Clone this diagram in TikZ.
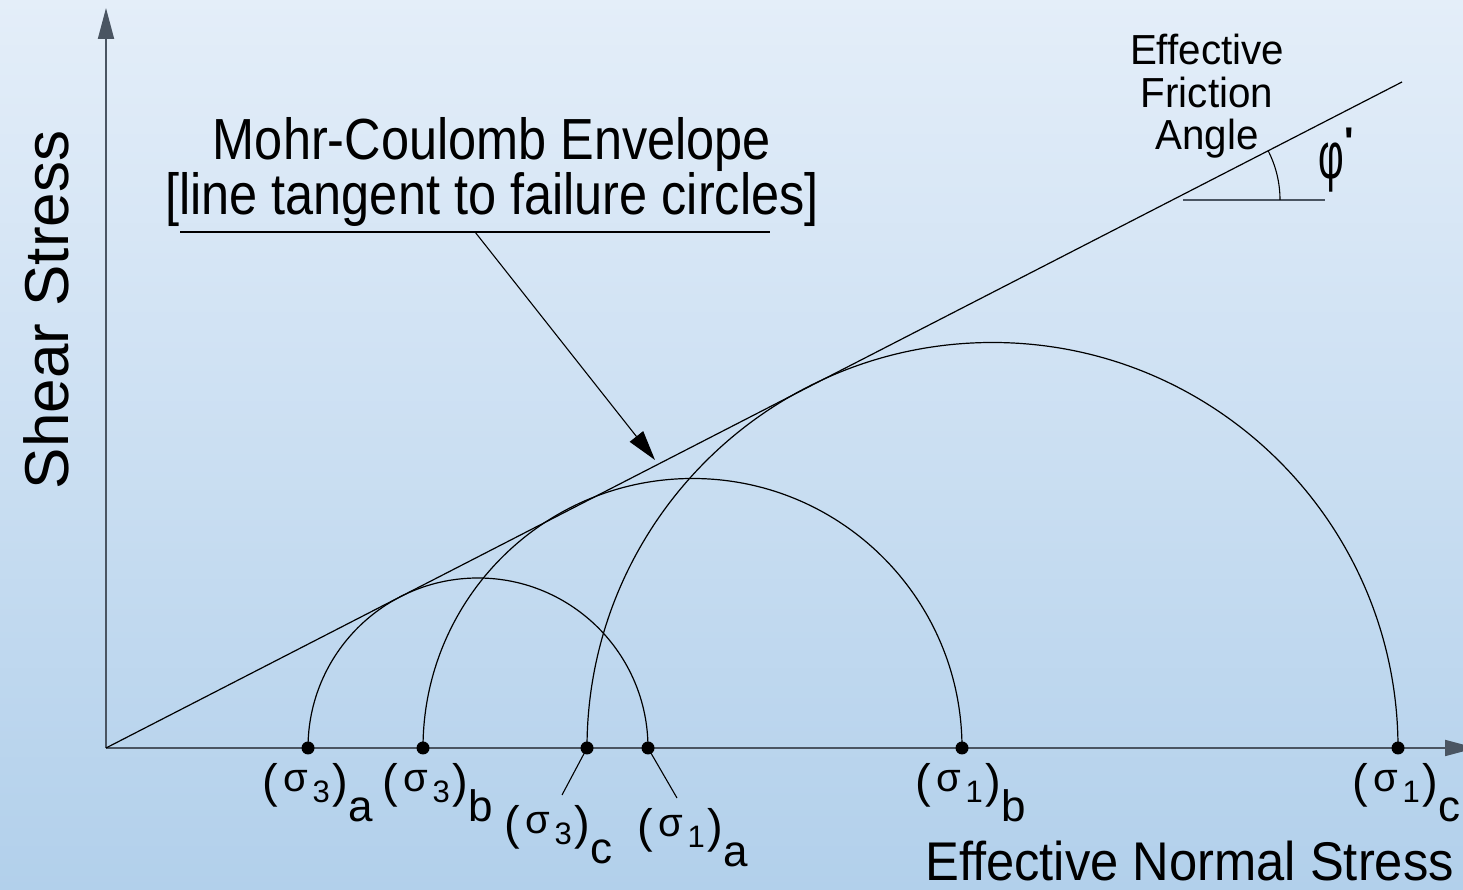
\documentclass[tikz,border=0pt]{standalone}
\usepackage{fontspec}
\setmainfont{Liberation Sans}
\newfontfamily\condfont{Liberation Sans}[FakeStretch=0.87]
\newfontfamily\semifont{Liberation Sans}[FakeStretch=0.96]
\newfontfamily\axfont{Liberation Sans}[FakeStretch=0.93]
\usetikzlibrary{arrows.meta}
\definecolor{bgtop}{HTML}{E4EEF9}
\definecolor{bgbot}{HTML}{B2D0EB}
\definecolor{axisgray}{HTML}{4A5562}
\newcommand{\sglab}[2]{{\fontsize{47}{47}\selectfont(}\kern6pt\raisebox{6pt}{\fontsize{40}{40}\selectfont σ}\kern4pt\raisebox{-5pt}{\fontsize{31}{31}\selectfont #1}\kern3pt{\fontsize{47}{47}\selectfont)}\raisebox{-24pt}{\fontsize{44}{44}\selectfont #2}}
\begin{document}
\begin{tikzpicture}[x=1pt,y=1pt,
  axis/.style={line width=1.8pt, draw=axisgray, -{Triangle[length=31pt,width=16pt]}},
  thinline/.style={line width=1.2pt, draw=black},
  leader/.style={line width=1.1pt, draw=black},
  pointer/.style={line width=1.1pt, draw=black, -{Triangle[length=30pt,width=17pt]}},
  dot/.style={circle, fill=black, inner sep=0pt, minimum size=13pt},
  slab/.style={anchor=base west, inner sep=0pt},
  bigtext/.style={inner sep=0pt, align=center}]
\shade[top color=bgtop, bottom color=bgbot] (0,0) rectangle (1463,890);
\useasboundingbox (0,0) rectangle (1463,890);

% axes
\coordinate (O) at (106,142);
\coordinate (ytip) at (106,882);
\coordinate (xtip) at (1476,142);
\draw[axis] (O) -- (ytip);
\draw[axis] (O) -- (xtip);

% stress points
\node[dot] (s3a) at (308,142) {};
\node[dot] (s3b) at (423,142) {};
\node[dot] (s3c) at (587,142) {};
\node[dot] (s1a) at (648,142) {};
\node[dot] (s1b) at (962,142) {};
\node[dot] (s1c) at (1398,142) {};

% Mohr circles
\draw[thinline] (s3a.center) arc[start angle=180, end angle=0, radius=170pt];
\draw[thinline] (s3b.center) arc[start angle=180, end angle=0, radius=269.5pt];
\draw[thinline] (s3c.center) arc[start angle=180, end angle=0, radius=405.5pt];

% envelope
\coordinate (Etop) at (1402,808);
\draw[thinline] (O) -- (Etop);

% title and pointer
\node[bigtext, anchor=north, font={\condfont\fontsize{58}{50}\selectfont}] (title) at (492,773)
  {Mohr-Coulomb Envelope\\{[}line tangent to failure circles]};
\coordinate (ulL) at (180,658);
\coordinate (ulR) at (770,658);
\draw[leader] (ulL) -- (ulR);
\coordinate (ptrS) at (475,658);
\coordinate (ptrT) at (655,430);
\draw[pointer] (ptrS) -- (ptrT);

% friction angle
\node[bigtext, anchor=north, font={\semifont\fontsize{42}{42.5}\selectfont}] (fric) at (1207,856)
  {Effective\\Friction\\Angle};
\coordinate (angR) at (1325,690);
\coordinate (angL) at (1183,690);
\draw[line width=1.3pt, draw=axisgray] (angL) -- (angR);
\draw[leader] (1280,690) arc[start angle=0, end angle=27.2, radius=108pt];
\node[slab] (phi) at (1318,711)
  {\fontsize{66}{66}\selectfont\scalebox{0.6}[1]{φ}\kern1pt\raisebox{23pt}{\fontsize{40}{40}\selectfont\bfseries\textquotesingle}};

% axis titles
\node[inner sep=0pt, anchor=base, rotate=90, font={\fontsize{62}{62}\selectfont}] (ylab) at (68,580) {Shear Stress};
\node[slab, font={\axfont\fontsize{54.5}{54.5}\selectfont}] (xlab) at (925,9) {Effective Normal Stress};

% stress labels
\node[slab] (l3a) at (262,92) {\sglab{3}{a}};
\node[slab] (l3b) at (382,92) {\sglab{3}{b}};
\node[slab] (l3c) at (504,50) {\sglab{3}{c}};
\node[slab] (l1a) at (637,47) {\sglab{1}{a}};
\node[slab] (l1b) at (915,92) {\sglab{1}{b}};
\node[slab] (l1c) at (1352,92) {\sglab{1}{c}};

\coordinate (c3end) at (562,95);
\coordinate (a1end) at (677,92);
\draw[leader] (s3c.center) -- (c3end);
\draw[leader] (s1a.center) -- (a1end);
\end{tikzpicture}
\end{document}
